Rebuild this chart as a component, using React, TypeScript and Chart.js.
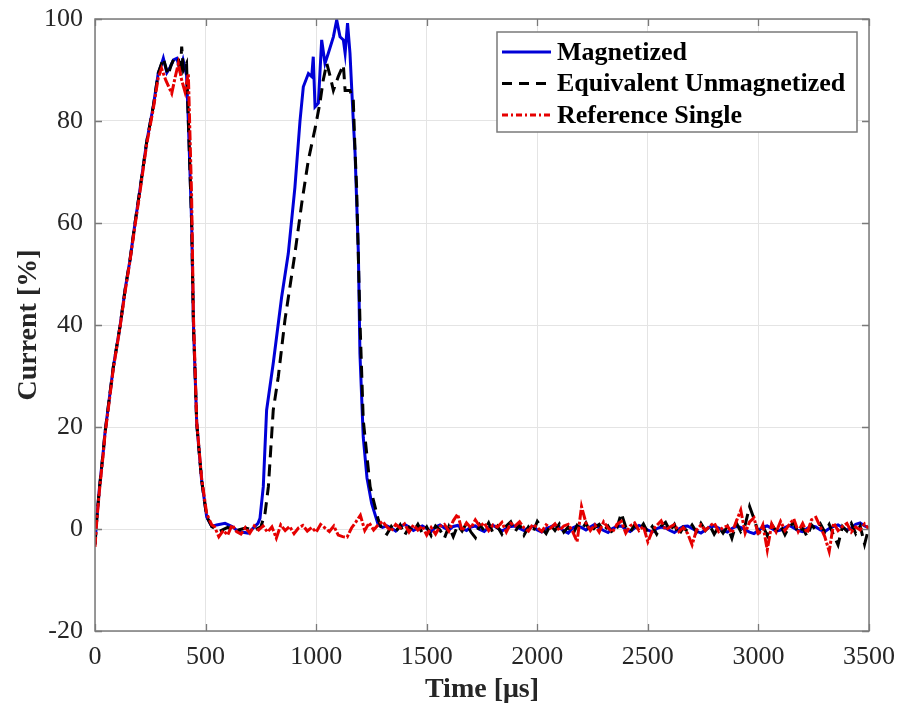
import React, { useEffect, useRef } from 'react';
import { Chart, registerables } from 'chart.js';

Chart.register(...registerables);

const FONT = "'Liberation Serif', 'Times New Roman', serif";

// ---------- Data (time in µs, current in %) ----------
const seriesLabels = ['Magnetized', 'Equivalent Unmagnetized', 'Reference Single'];

const blueTime = [0, 8, 20, 38, 45, 60, 83, 113, 136, 158, 181, 203, 234, 264, 286, 300, 309, 325, 339, 355,
  370, 385, 398, 414, 422, 437, 445, 460, 482, 505, 528, 550, 588, 620, 648, 692, 737, 746, 761, 776,
  806, 844, 874, 904, 927, 942, 965, 980, 987, 995, 1010, 1025, 1040, 1055, 1078, 1093, 1108, 1123, 1131, 1142,
  1153, 1168, 1176, 1191, 1198, 1213, 1230, 1251, 1281];
const blueValues = [-3, 2, 8, 15.5, 18.8, 24, 31.8, 39.7, 46.9, 52.7, 60, 66.5, 76, 83, 89.4, 91, 92.3, 89.5, 90.5, 92,
  92.3, 90, 92, 89, 80, 60, 40.3, 20.7, 9.6, 2.4, 0.5, 0.8, 1.1, 0.5, -0.5, -0.8, 1.1, 2.1, 8.3, 23.3,
  32.5, 45.5, 54, 67, 80, 86.7, 89.3, 88.7, 92.6, 82.8, 83.5, 95.9, 91.3, 93.3, 96.5, 99.8, 96.5, 95.9, 93.3, 99.2,
  93.3, 80, 73.7, 54, 34.4, 18, 10, 5, 0.8];

const blackTime = [0, 8, 20, 38, 45, 60, 83, 113, 136, 158, 181, 203, 234, 264, 286, 309, 330, 345, 360, 377,
  385, 392, 400, 414, 422, 437, 445, 460, 482, 505, 528, 560, 600, 640, 680, 720, 750, 769, 784, 806,
  829, 859, 904, 935, 965, 995, 1017, 1032, 1048, 1062, 1078, 1100, 1123, 1131, 1153, 1168, 1176, 1183, 1198, 1213,
  1244, 1281];
const blackValues = [-3, 2, 8, 15.5, 18.8, 24, 31.8, 39.7, 46.9, 52.7, 60, 66.5, 76, 83, 89.4, 92.3, 89, 91, 92.5, 92.3,
  89, 94.6, 90, 91.3, 80, 60, 40.3, 20.7, 9.6, 2.4, 0.5, -0.5, 0.3, -0.3, 0.2, -0.2, 0.4, 3.1, 8.3, 23.3,
  29.9, 41, 54, 63.9, 72.4, 78.5, 83.5, 88, 91.3, 89, 86, 88.7, 91, 86, 86, 84, 74, 67, 41, 21.4,
  8.3, 1.8];

const redTime = [0, 8, 20, 38, 45, 60, 83, 113, 136, 158, 181, 203, 234, 264, 286, 301, 320, 347, 362, 377,
  392, 407, 422, 437, 445, 460, 482, 505, 528];
const redValues = [-3.5, 1.5, 7.5, 15, 18.5, 23.5, 31.5, 39.5, 46.5, 52.5, 59.5, 66, 75.5, 82.5, 88.5, 90.3, 88, 85.4, 88.5, 91.3,
  88, 85.7, 89.3, 65, 42, 21, 10, 3, 0.8];

// quiet interval of the reference shot (540..1280 µs)
const redQuietTime = [540, 560, 580, 600, 620, 640, 660, 680, 700, 720,
  740, 760, 780, 800, 820, 840, 860, 880, 900, 920,
  940, 960, 980, 1000, 1020, 1040, 1060, 1080, 1100, 1120,
  1140, 1160, 1180, 1200, 1220, 1240, 1260, 1280];
const redQuietValues = [0.5, -1.5, -0.3, -1.2, 0.8, -0.5, -1.0, 0.3, -0.8, 0.6,
  -0.2, 0.6, -0.6, 0.4, -1.8, 0.8, -0.3, 0.5, -0.9, 0.2,
  0.7, -0.4, 0.3, -0.6, 0.9, 0.2, -0.5, 0.6, -1.2, -1.5,
  -1.6, 0.2, 1.4, 2.7, -0.3, 1.2, -0.2, 0.8];

// common tail (1300..3500 µs)
const tailTime = [1300, 1320, 1340, 1360, 1380, 1400, 1420, 1440, 1460, 1480,
  1500, 1520, 1540, 1560, 1580, 1600, 1620, 1640, 1660, 1680,
  1700, 1720, 1740, 1760, 1780, 1800, 1820, 1840, 1860, 1880,
  1900, 1920, 1940, 1960, 1980, 2000, 2020, 2040, 2060, 2080,
  2100, 2120, 2140, 2160, 2180, 2200, 2220, 2240, 2260, 2280,
  2300, 2320, 2340, 2360, 2380, 2400, 2420, 2440, 2460, 2480,
  2500, 2520, 2540, 2560, 2580, 2600, 2620, 2640, 2660, 2680,
  2700, 2720, 2740, 2760, 2780, 2800, 2820, 2840, 2860, 2880,
  2900, 2920, 2940, 2960, 2980, 3000, 3020, 3040, 3060, 3080,
  3100, 3120, 3140, 3160, 3180, 3200, 3220, 3240, 3260, 3280,
  3300, 3320, 3340, 3360, 3380, 3400, 3420, 3440, 3460, 3480,
  3500];
const blueTail = [0.3, 0.6, 0.2, -0.4, 0.5, 0.9, 0.4, -0.3, 0.2, 0.6,
  0.1, -0.5, 0.4, 0.8, 0.2, -0.2, 0.5, 0.7, 0.1, -0.3,
  0.4, 0.6, -0.1, -0.5, 0.3, 0.7, 0.2, -0.4, 0.1, 0.5,
  0.6, 0.1, -0.3, 0.2, 0.5, -0.2, -0.6, 0.1, 0.4, 0.8,
  0.3, -0.4, -0.8, 0.2, 0.6, 0.3, -0.2, 0.4, 0.9, 0.2,
  -0.3, -0.7, 0.1, 0.5, 0.6, -0.1, -0.5, 0.2, 0.7, 0.3,
  -0.2, -0.6, 0.1, 0.4, 0.2, -0.3, -0.7, 0.0, 0.5, 0.6,
  0.1, -0.4, -0.8, -0.2, 0.4, 0.6, 0.2, -0.3, -0.6, 0.1,
  0.5, 0.3, -0.2, -0.6, -0.9, -0.3, 0.4, 0.6, 0.1, -0.4,
  -0.2, 0.3, 0.7, 0.2, -0.3, -0.5, 0.1, 0.6, 0.4, -0.2,
  -0.5, 0.1, 0.5, 0.8, 0.3, -0.2, 0.2, 0.9, 1.2, 0.6,
  0.2];
const blackTail = [-0.3, -1.0, 0.5, -0.6, 0.8, -1.2, 0.3, -0.5, 0.9, -0.8,
  0.4, -1.3, 0.6, -0.2, -1.8, 0.5, -1.5, 0.7, -0.4, 1.1,
  -0.6, -1.7, 0.8, -0.3, 1.2, -0.8, 0.5, -1.0, 0.6, 1.4,
  -0.5, 0.9, -1.2, 0.4, -0.7, 1.5, 0.2, -0.9, 0.8, -0.3,
  1.0, -0.6, 0.4, -1.1, 0.7, -0.2, 1.2, -0.7, 0.3, 0.9,
  -0.4, 0.6, -0.8, 0.2, 3.1, 0.4, -0.6, 0.8, -0.3, 1.0,
  -0.7, 0.5, -1.0, 0.6, 1.3, -0.4, 0.9, -1.2, 0.3, -0.5,
  0.8, -0.6, 1.1, -0.3, 0.7, -1.0, 0.4, -0.8, 0.5, -1.8,
  1.2, -0.5, 0.8, 4.4, 2.0, -0.7, 0.6, -1.3, 0.9, -0.4,
  0.7, -1.1, 0.5, 1.2, -0.8, 0.3, -1.5, 0.8, -0.2, 1.0,
  -0.6, 0.9, -1.2, -3.1, 0.5, -0.4, 1.1, -0.9, 0.6, -3.0,
  0.4];
const redTail = [1.5, 0.4, -0.4, 0.9, 0.2, 1.0, -0.6, 0.8, -0.2, 0.6,
  -1.2, 0.3, -1.0, 0.5, 0.9, -0.4, 1.6, 2.9, -0.4, 1.2,
  0.2, 1.8, 0.5, 1.2, -0.3, 0.8, 0.4, 1.3, -0.6, 1.1,
  0.6, 1.4, 0.2, -0.4, 0.9, 0.3, -0.5, 0.8, 0.2, 1.0,
  -0.3, 0.6, 0.9, -0.5, -2.5, 4.4, 1.2, -0.3, 0.8, -0.6,
  1.4, 0.2, -0.6, 0.9, 1.5, -0.8, 0.6, 1.2, -0.3, 0.5,
  -2.5, -0.4, 0.7, 1.6, -0.2, 0.4, 0.9, -0.5, 0.3, -0.9,
  -3.1, -0.2, 0.8, -0.3, 0.6, 1.2, -0.5, 0.3, 0.6, -0.8,
  1.5, 3.7, -0.8, 1.4, 2.2, -1.2, 0.8, -4.1, 1.0, -0.6,
  1.5, -0.3, 0.9, 2.0, -0.5, 1.1, -0.8, 1.8, 2.3, 0.4,
  -1.5, -4.4, 1.2, -0.3, 0.5, 1.1, -0.6, 0.4, -0.2, 1.0,
  0.0];

const xTicks = [0, 500, 1000, 1500, 2000, 2500, 3000, 3500];
const yTicks = [-20, 0, 20, 40, 60, 80, 100];

const BLUE = 'rgb(0,0,215)';
const BLACK = 'rgb(0,0,0)';
const RED = 'rgb(230,0,0)';

function toPoints(times: number[], values: number[]) {
  return times.map((t, i) => ({ x: t, y: values[i] }));
}

const frameGray = '#7a7a7a';

const boxPlugin = {
  id: 'matlabBox',
  afterDatasetsDraw(chart: any) {
    const { ctx, chartArea: a, scales } = chart;
    ctx.save();
    ctx.strokeStyle = frameGray;
    ctx.lineWidth = 1.3;
    const tl = 7;
    ctx.beginPath();
    xTicks.forEach((v) => {
      const px = Math.round(scales.x.getPixelForValue(v)) + 0.5;
      ctx.moveTo(px, a.bottom); ctx.lineTo(px, a.bottom - tl);
      ctx.moveTo(px, a.top); ctx.lineTo(px, a.top + tl);
    });
    yTicks.forEach((v) => {
      const py = Math.round(scales.y.getPixelForValue(v)) + 0.5;
      ctx.moveTo(a.left, py); ctx.lineTo(a.left + tl, py);
      ctx.moveTo(a.right, py); ctx.lineTo(a.right - tl, py);
    });
    ctx.stroke();
    ctx.lineWidth = 1.5;
    ctx.strokeRect(a.left, a.top, a.right - a.left, a.bottom - a.top);
    ctx.restore();
  },
  afterDraw(chart: any) {
    const { ctx } = chart;
    const bx = 497, by = 32, bw = 360, bh = 100;
    ctx.save();
    ctx.fillStyle = '#ffffff';
    ctx.fillRect(bx, by, bw, bh);
    ctx.strokeStyle = frameGray;
    ctx.lineWidth = 1.5;
    ctx.strokeRect(bx, by, bw, bh);
    const rows = [52, 83.5, 115];
    const styles = [
      { color: BLUE, dash: [] as number[] },
      { color: BLACK, dash: [10, 7] },
      { color: RED, dash: [6, 3, 2, 3] },
    ];
    chart.data.datasets.forEach((ds: any, i: number) => {
      const y = rows[i];
      ctx.beginPath();
      ctx.setLineDash(styles[i].dash);
      ctx.strokeStyle = styles[i].color;
      ctx.lineWidth = 3;
      ctx.moveTo(502, y);
      ctx.lineTo(551, y);
      ctx.stroke();
      ctx.setLineDash([]);
      ctx.fillStyle = '#000';
      ctx.font = `bold 26px ${FONT}`;
      ctx.textBaseline = 'middle';
      ctx.textAlign = 'left';
      ctx.fillText(ds.label, 557, y + 1);
    });
    ctx.restore();
  },
};

export default function App() {
  const ref = useRef<HTMLCanvasElement | null>(null);

  useEffect(() => {
    document.body.style.margin = '0';
    if (!ref.current) return;
    const chart = new Chart(ref.current, {
      type: 'line',
      data: {
        datasets: [
          {
            label: seriesLabels[0],
            data: toPoints(blueTime, blueValues).concat(toPoints(tailTime, blueTail)),
            borderColor: BLUE,
            borderWidth: 3,
            pointRadius: 0,
            tension: 0,
            order: 3,
          },
          {
            label: seriesLabels[1],
            data: toPoints(blackTime, blackValues).concat(toPoints(tailTime, blackTail)),
            borderColor: BLACK,
            borderWidth: 3,
            borderDash: [12, 7],
            pointRadius: 0,
            tension: 0,
            order: 2,
          },
          {
            label: seriesLabels[2],
            data: toPoints(redTime, redValues)
              .concat(toPoints(redQuietTime, redQuietValues))
              .concat(toPoints(tailTime, redTail)),
            borderColor: RED,
            borderWidth: 3,
            borderDash: [10, 2, 3, 2],
            pointRadius: 0,
            tension: 0,
            order: 1,
          },
        ],
      },
      options: {
        responsive: false,
        animation: false,
        layout: { padding: { left: 0, right: 32, top: 19, bottom: 0 } },
        plugins: {
          legend: { display: false },
          tooltip: { enabled: false },
        },
        scales: {
          x: {
            type: 'linear',
            min: 0,
            max: 3500,
            afterFit: (s: any) => {
              s.height = 76;
              s.paddingLeft = 0;
              s.paddingRight = 0;
            },
            afterBuildTicks: (s: any) => { s.ticks = xTicks.map((v) => ({ value: v })); },
            ticks: {
              color: '#262626',
              font: { family: FONT, size: 26 },
              padding: 11,
              maxRotation: 0,
              autoSkip: false,
              callback: (v: any) => String(v),
            },
            grid: { color: '#e4e4e4', lineWidth: 1, drawTicks: false },
            border: { display: false },
            title: {
              display: true,
              text: 'Time [μs]',
              color: '#262626',
              font: { family: FONT, size: 28, weight: 'bold' },
              padding: { top: 0, bottom: 0 },
            },
          },
          y: {
            type: 'linear',
            min: -20,
            max: 100,
            afterFit: (s: any) => {
              s.width = 95;
              s.paddingTop = 0;
              s.paddingBottom = 0;
            },
            afterBuildTicks: (s: any) => { s.ticks = yTicks.map((v) => ({ value: v })); },
            ticks: {
              color: '#262626',
              font: { family: FONT, size: 26 },
              padding: 12,
              autoSkip: false,
              callback: (v: any) => String(v),
            },
            grid: { color: '#e4e4e4', lineWidth: 1, drawTicks: false },
            border: { display: false },
            title: {
              display: true,
              text: 'Current [%]',
              color: '#262626',
              font: { family: FONT, size: 28, weight: 'bold' },
              padding: { top: 12, bottom: 0 },
            },
          },
        },
      },
      plugins: [boxPlugin],
    } as any);
    return () => chart.destroy();
  }, []);

  return (
    <div style={{ width: 901, height: 707, position: 'relative' }}>
      <canvas ref={ref} width={901} height={707} style={{ display: 'block' }} />
    </div>
  );
}
